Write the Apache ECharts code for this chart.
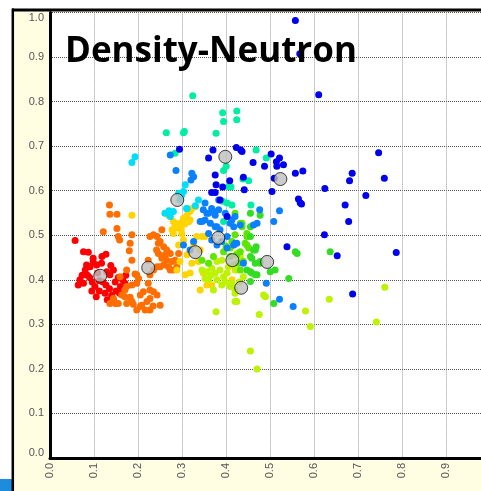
<!DOCTYPE html>
<html><head><meta charset="utf-8">
<script src="https://cdn.jsdelivr.net/npm/echarts@6/dist/echarts.min.js"></script>
<style>html,body{margin:0;padding:0;background:#fff;overflow:hidden;width:481px;height:491px}#c{width:496px;height:491px}</style>
</head><body><div id="c"></div>
<script>
const titleText = "Density-Neutron";
const tickValues = [0.0,0.1,0.2,0.3,0.4,0.5,0.6,0.7,0.8,0.9,1.0];

const redPts = [[0.057,0.488],[0.076,0.463],[0.087,0.462],[0.098,0.448],[0.127,0.457],[0.083,0.433],[0.091,0.429],[0.080,0.422],[0.106,0.433],[0.117,0.437],[0.129,0.418],[0.136,0.411],[0.144,0.422],[0.068,0.400],[0.064,0.388],[0.076,0.392],[0.090,0.405],[0.096,0.395],[0.102,0.385],[0.120,0.395],[0.127,0.388],[0.135,0.380],[0.112,0.375],[0.125,0.370],[0.140,0.365],[0.148,0.395],[0.155,0.405],[0.160,0.385],[0.150,0.375],[0.165,0.400],[0.170,0.392],[0.108,0.415],[0.085,0.410],[0.073,0.410],[0.095,0.375],[0.105,0.362],[0.130,0.355],[0.145,0.352],[0.158,0.370],[0.118,0.452],[0.098,0.440],[0.112,0.398],[0.172,0.410],[0.138,0.432]];

const orangePts = [[0.135,0.568],[0.136,0.547],[0.152,0.547],[0.121,0.508],[0.152,0.515],[0.155,0.497],[0.158,0.489],[0.186,0.501],[0.182,0.482],[0.180,0.465],[0.186,0.444],[0.174,0.422],[0.193,0.413],[0.201,0.403],[0.197,0.411],[0.159,0.407],[0.174,0.385],[0.186,0.388],[0.170,0.377],[0.163,0.366],[0.170,0.362],[0.182,0.361],[0.144,0.358],[0.136,0.347],[0.148,0.347],[0.155,0.347],[0.174,0.347],[0.186,0.351],[0.189,0.345],[0.205,0.340],[0.216,0.332],[0.197,0.332],[0.208,0.343],[0.220,0.351],[0.227,0.332],[0.250,0.343],[0.243,0.366],[0.235,0.373],[0.212,0.373],[0.205,0.366],[0.227,0.358],[0.227,0.377],[0.223,0.392],[0.197,0.392],[0.227,0.497],[0.243,0.497],[0.235,0.501],[0.223,0.444],[0.227,0.411],[0.243,0.429],[0.250,0.486],[0.258,0.474],[0.265,0.467],[0.261,0.456],[0.273,0.459],[0.254,0.448],[0.265,0.444],[0.277,0.441],[0.258,0.433],[0.269,0.429],[0.284,0.444],[0.288,0.429],[0.280,0.422],[0.246,0.459],[0.292,0.459],[0.254,0.512],[0.246,0.482],[0.242,0.467],[0.254,0.452],[0.250,0.429],[0.235,0.422],[0.273,0.422],[0.234,0.341]];

const goldPts = [[0.186,0.545],[0.269,0.545],[0.284,0.527],[0.295,0.527],[0.303,0.538],[0.311,0.545],[0.318,0.534],[0.322,0.560],[0.330,0.564],[0.288,0.516],[0.280,0.504],[0.299,0.504],[0.303,0.489],[0.292,0.478],[0.295,0.441],[0.288,0.422],[0.307,0.411],[0.318,0.415],[0.337,0.441],[0.333,0.497],[0.345,0.497],[0.352,0.497],[0.341,0.377],[0.356,0.388],[0.367,0.388],[0.348,0.415],[0.326,0.478],[0.311,0.456],[0.322,0.437],[0.341,0.467],[0.318,0.553],[0.284,0.520],[0.277,0.512],[0.280,0.531],[0.420,0.422],[0.413,0.400],[0.306,0.525],[0.298,0.514],[0.315,0.530]];

const limePts = [[0.345,0.422],[0.356,0.418],[0.367,0.426],[0.375,0.415],[0.386,0.422],[0.394,0.407],[0.402,0.415],[0.413,0.392],[0.379,0.400],[0.390,0.388],[0.409,0.385],[0.420,0.377],[0.371,0.377],[0.360,0.400],[0.352,0.403],[0.405,0.429],[0.379,0.441],[0.390,0.444],[0.420,0.351],[0.377,0.328],[0.424,0.422],[0.424,0.459],[0.432,0.452],[0.417,0.433],[0.439,0.407],[0.420,0.370],[0.424,0.351],[0.489,0.362],[0.485,0.366],[0.475,0.322],[0.580,0.330],[0.591,0.295],[0.634,0.356],[0.760,0.383],[0.741,0.305],[0.455,0.240],[0.470,0.200],[0.398,0.395],[0.430,0.395],[0.365,0.410]];

const greenPts = [[0.345,0.444],[0.360,0.437],[0.371,0.452],[0.409,0.471],[0.409,0.452],[0.424,0.456],[0.432,0.463],[0.439,0.441],[0.447,0.478],[0.428,0.437],[0.413,0.486],[0.420,0.501],[0.432,0.527],[0.447,0.497],[0.394,0.463],[0.420,0.549],[0.436,0.527],[0.443,0.482],[0.451,0.471],[0.417,0.478],[0.436,0.519],[0.447,0.504],[0.432,0.422],[0.400,0.475]];

const green2Pts = [[0.455,0.452],[0.462,0.467],[0.447,0.422],[0.458,0.415],[0.470,0.411],[0.477,0.437],[0.455,0.549],[0.455,0.519],[0.477,0.545],[0.455,0.497],[0.466,0.467],[0.458,0.448],[0.477,0.441],[0.455,0.418],[0.466,0.411],[0.500,0.418],[0.511,0.422],[0.542,0.403],[0.557,0.463],[0.561,0.459],[0.636,0.463],[0.508,0.347],[0.455,0.396],[0.468,0.474],[0.466,0.437]];

const cyanPts = [[0.186,0.663],[0.193,0.676],[0.303,0.598],[0.299,0.590],[0.337,0.579],[0.280,0.553],[0.261,0.549],[0.311,0.560],[0.292,0.594],[0.273,0.542],[0.307,0.613],[0.295,0.579],[0.310,0.560],[0.330,0.566],[0.270,0.555]];

const aquaPts = [[0.324,0.813],[0.392,0.775],[0.424,0.779],[0.394,0.755],[0.424,0.759],[0.305,0.733],[0.377,0.729],[0.468,0.691],[0.491,0.673],[0.400,0.655],[0.394,0.645],[0.438,0.626],[0.451,0.622],[0.411,0.608],[0.392,0.576],[0.402,0.572],[0.413,0.568],[0.456,0.568],[0.264,0.730],[0.303,0.730],[0.284,0.684],[0.394,0.531],[0.405,0.609]];

const azurePts = [[0.352,0.572],[0.360,0.549],[0.371,0.553],[0.383,0.557],[0.341,0.531],[0.352,0.534],[0.364,0.527],[0.375,0.519],[0.386,0.512],[0.360,0.504],[0.367,0.489],[0.379,0.478],[0.390,0.486],[0.402,0.497],[0.420,0.482],[0.326,0.486],[0.303,0.478],[0.318,0.467],[0.402,0.471],[0.417,0.519],[0.409,0.527],[0.398,0.549],[0.432,0.523],[0.470,0.527],[0.286,0.645],[0.322,0.639],[0.326,0.631],[0.320,0.624],[0.348,0.557],[0.356,0.549],[0.367,0.560],[0.375,0.545],[0.379,0.519],[0.345,0.531],[0.476,0.557],[0.521,0.555],[0.508,0.531],[0.462,0.523],[0.491,0.392],[0.521,0.356],[0.552,0.340],[0.413,0.534],[0.420,0.542],[0.424,0.482],[0.417,0.478],[0.439,0.437],[0.273,0.680],[0.383,0.579]];

const bluePts = [[0.557,0.982],[0.567,0.907],[0.610,0.815],[0.746,0.685],[0.521,0.673],[0.530,0.658],[0.514,0.665],[0.515,0.655],[0.557,0.639],[0.574,0.644],[0.686,0.639],[0.680,0.622],[0.759,0.628],[0.624,0.605],[0.717,0.589],[0.670,0.568],[0.564,0.581],[0.568,0.573],[0.370,0.691],[0.360,0.673],[0.423,0.697],[0.433,0.691],[0.436,0.688],[0.502,0.682],[0.461,0.663],[0.487,0.655],[0.375,0.635],[0.408,0.622],[0.509,0.628],[0.439,0.630],[0.441,0.602],[0.392,0.608],[0.377,0.613],[0.367,0.596],[0.375,0.596],[0.504,0.598],[0.678,0.531],[0.623,0.501],[0.538,0.474],[0.652,0.454],[0.786,0.461],[0.687,0.368],[0.294,0.693],[0.386,0.579],[0.402,0.542],[0.571,0.570]];

const centroidPts = [[0.114,0.409],[0.223,0.427],[0.289,0.579],[0.330,0.462],[0.382,0.494],[0.398,0.676],[0.414,0.444],[0.434,0.382],[0.493,0.440],[0.523,0.626]];

const groups = [
  ['red', redPts, '#FF0000'],
  ['orange', orangePts, '#FF6E00'],
  ['gold', goldPts, '#FFD400'],
  ['lime', limePts, '#BDF200'],
  ['green', greenPts, '#5CE600'],
  ['green2', green2Pts, '#33DD22'],
  ['cyan', cyanPts, '#00DDF5'],
  ['aqua', aquaPts, '#00EEA4'],
  ['azure', azurePts, '#0A80FF'],
  ['blue', bluePts, '#0000EE']
];

const series = groups.map(g => ({
  name: g[0], type: 'scatter', data: g[1], symbolSize: 7,
  itemStyle: {color: g[2], opacity: 1}, silent: true, z: 3
}));
series.push({
  name: 'centroid', type: 'scatter', data: centroidPts, symbolSize: 13,
  itemStyle: {color: '#BEBEBE', borderColor: '#111', borderWidth: 1}, silent: true, z: 5
});

const chart = echarts.init(document.getElementById('c'), null, {renderer: 'canvas', width: 496, height: 491});
chart.setOption({
  animation: false,
  backgroundColor: '#ffffff',
  graphic: [
    {type: 'rect', z: -10, silent: true, shape: {x: 13, y: 9, width: 490, height: 484}, style: {fill: '#FFFDE2'}},
    {type: 'rect', z: -5, silent: true, shape: {x: 0, y: 479, width: 12, height: 12}, style: {fill: '#1B8DDC'}},
    {type: 'line', z: 10, silent: true, shape: {x1: 12, y1: 10, x2: 496, y2: 10}, style: {stroke: '#000', lineWidth: 3}},
    {type: 'line', z: 10, silent: true, shape: {x1: 12.8, y1: 8.5, x2: 12.8, y2: 491}, style: {stroke: '#000', lineWidth: 2.5}},
    {type: 'text', z: 20, silent: true, x: 65, y: 52, style: {text: titleText, fill: '#000', font: 'bold 35px "Open Sans"', textVerticalAlign: 'middle'}}
  ],
  grid: {left: 50, top: 12.4, right: 0, bottom: 33, show: true, backgroundColor: '#ffffff', borderWidth: 0, containLabel: false},
  xAxis: {
    type: 'value', min: 0, max: 1, interval: 0.1,
    axisLine: {show: true, onZero: false, lineStyle: {color: '#000', width: 3}},
    axisTick: {show: false},
    axisLabel: {rotate: 90, margin: 5, color: '#555', fontSize: 11, fontFamily: 'Liberation Sans',
      formatter: v => tickValues.find(t => Math.abs(t - v) < 1e-6).toFixed(1)},
    splitLine: {show: true, lineStyle: {color: '#999', type: 'dotted', width: 1}}
  },
  yAxis: {
    type: 'value', min: 0, max: 1, interval: 0.1,
    axisLine: {show: true, onZero: false, lineStyle: {color: '#000', width: 3}},
    axisTick: {show: false},
    axisLabel: {margin: 6, color: '#555', fontSize: 11, fontFamily: 'Liberation Sans',
      verticalAlignMaxLabel: 'top', verticalAlignMinLabel: 'bottom',
      formatter: v => tickValues.find(t => Math.abs(t - v) < 1e-6).toFixed(1)},
    splitLine: {show: true, lineStyle: {color: '#555', type: 'dotted', width: 1}}
  },
  series: series
});
</script></body></html>
